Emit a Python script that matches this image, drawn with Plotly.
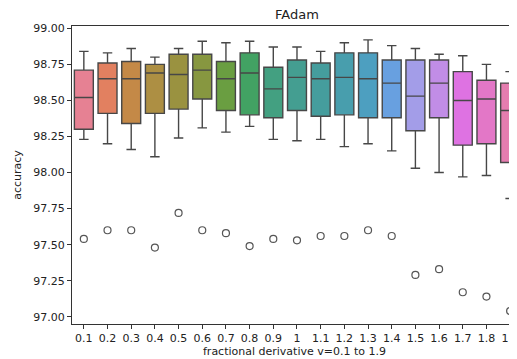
import math
import colorsys
import plotly.graph_objects as go

categories = ["0.1", "0.2", "0.3", "0.4", "0.5", "0.6", "0.7", "0.8", "0.9", "1",
              "1.1", "1.2", "1.3", "1.4", "1.5", "1.6", "1.7", "1.8", "1.9"]
upper_whisker = [98.84, 98.83, 98.86, 98.80, 98.86, 98.91, 98.90, 98.91, 98.87, 98.87,
                 98.84, 98.90, 98.92, 98.88, 98.86, 98.82, 98.81, 98.75, 98.70]
q3_vals = [98.71, 98.76, 98.77, 98.75, 98.82, 98.82, 98.77, 98.83, 98.73, 98.78,
           98.76, 98.83, 98.83, 98.78, 98.78, 98.78, 98.70, 98.64, 98.62]
median_vals = [98.52, 98.65, 98.65, 98.69, 98.68, 98.71, 98.65, 98.69, 98.58, 98.66,
               98.65, 98.66, 98.65, 98.62, 98.53, 98.62, 98.50, 98.51, 98.43]
q1_vals = [98.30, 98.41, 98.34, 98.41, 98.44, 98.51, 98.43, 98.40, 98.38, 98.43,
           98.39, 98.40, 98.38, 98.38, 98.29, 98.38, 98.19, 98.20, 98.07]
lower_whisker = [98.23, 98.20, 98.16, 98.11, 98.24, 98.31, 98.28, 98.32, 98.23, 98.22,
                 98.23, 98.18, 98.20, 98.15, 98.03, 98.00, 97.97, 97.98, 97.82]
outliers = [97.54, 97.60, 97.60, 97.48, 97.72, 97.60, 97.58, 97.49, 97.54, 97.53,
            97.56, 97.56, 97.60, 97.56, 97.29, 97.33, 97.17, 97.14, 97.04]

# ---- seaborn-like "husl" palette (style only) ----
M = [[3.2406, -1.5372, -0.4986], [-0.9689, 1.8758, 0.0415], [0.0557, -0.2040, 1.0570]]
REF_U, REF_V, KAPPA, EPS = 0.19784, 0.46834, 903.2962962, 0.0088564516


def _max_chroma(L, H):
    hrad = math.radians(H)
    sinH, cosH = math.sin(hrad), math.cos(hrad)
    sub1 = (L + 16) ** 3 / 1560896.0
    sub2 = sub1 if sub1 > EPS else L / KAPPA
    result = float("inf")
    for m1, m2, m3 in M:
        top = (0.99915 * m1 + 1.05122 * m2 + 1.14460 * m3) * sub2
        rb = 0.86330 * m3 - 0.17266 * m2
        lb = 0.12949 * m3 - 0.38848 * m1
        bottom = (rb * sinH + lb * cosH) * sub2
        for t in (0.0, 1.0):
            C = L * (top - 1.05122 * t) / (bottom + 0.17266 * sinH * t)
            if 0 < C < result:
                result = C
    return result


def _husl_to_rgb(H, S, L):
    C = _max_chroma(L, H) / 100.0 * S
    hrad = math.radians(H)
    U, V = C * math.cos(hrad), C * math.sin(hrad)
    Y = ((L + 16) / 116.0) ** 3 if L > 8 else L / KAPPA
    vu = U / (13 * L) + REF_U
    vv = V / (13 * L) + REF_V
    X = -(9 * Y * vu) / ((vu - 4) * vv - vu * vv)
    Z = (9 * Y - 15 * vv * Y - vv * X) / (3 * vv)
    out = []
    for row in M:
        c = row[0] * X + row[1] * Y + row[2] * Z
        c = 12.92 * c if c <= 0.0031308 else 1.055 * c ** (1 / 2.4) - 0.055
        out.append(min(max(c, 0.0), 1.0))
    return out


def _desaturate(rgb, prop):
    h, l, s = colorsys.rgb_to_hls(*rgb)
    return colorsys.hls_to_rgb(h, l, s * prop)


n = len(categories)
colors = []
for i in range(n):
    h = ((i / n) + 0.01) % 1 * 359
    rgb = _desaturate(_husl_to_rgb(h, 0.9 * 99, 0.65 * 99), 0.75)
    colors.append("rgb(%d,%d,%d)" % tuple(round(v * 255) for v in rgb))

edge = "#474747"
fig = go.Figure()
for i, cat in enumerate(categories):
    fig.add_trace(go.Box(
        x=[cat], q1=[q1_vals[i]], median=[median_vals[i]], q3=[q3_vals[i]],
        lowerfence=[lower_whisker[i]], upperfence=[upper_whisker[i]],
        fillcolor=colors[i], line=dict(color=edge, width=1.4),
        width=0.8, whiskerwidth=0.5, boxpoints=False, showlegend=False,
        hoverinfo="skip"))

fig.add_trace(go.Scatter(
    x=categories, y=outliers, mode="markers", showlegend=False,
    marker=dict(symbol="circle-open", size=7, color="#555555", line=dict(width=1.2))))

# the page body has an 8px margin, so the figure is 8px smaller and shifted
W, H = 509, 351
font = "DejaVu Sans, sans-serif"
fig.update_layout(
    width=W, height=H,
    margin=dict(l=64, r=0, t=18, b=35, autoexpand=False),
    paper_bgcolor="white", plot_bgcolor="white",
    boxmode="overlay",
    font=dict(family=font, size=11, color="#222222"),
    title=dict(text="FAdam", x=289 / W, xref="container", xanchor="center",
               y=1 - 2 / H, yref="container", yanchor="top",
               pad=dict(t=0, b=0, l=0, r=0),
               font=dict(family=font, size=13, color="#222222")),
)
fig.update_xaxes(
    type="category", categoryorder="array", categoryarray=categories,
    range=[-0.5, 18.29], showgrid=False, zeroline=False,
    showline=True, linecolor="#333333", linewidth=1, mirror=True,
    ticks="outside", ticklen=4, tickcolor="#333333", tickwidth=1,
    tickfont=dict(family=font, size=11, color="#222222"),
    title=dict(text="fractional derivative v=0.1 to 1.9", standoff=3,
               font=dict(family=font, size=11, color="#222222")),
)
fig.update_yaxes(
    range=[96.95, 99.016], tickvals=[97.0, 97.25, 97.5, 97.75, 98.0, 98.25, 98.5, 98.75, 99.0],
    ticktext=["97.00", "97.25", "97.50", "97.75", "98.00", "98.25", "98.50", "98.75", "99.00"],
    showgrid=False, zeroline=False,
    showline=True, linecolor="#333333", linewidth=1,
    ticks="outside", ticklen=4, tickcolor="#333333", tickwidth=1,
    tickfont=dict(family=font, size=11, color="#222222"),
    title=dict(text="accuracy", standoff=9,
               font=dict(family=font, size=11, color="#222222")),
)

fig.write_html("out.html")
